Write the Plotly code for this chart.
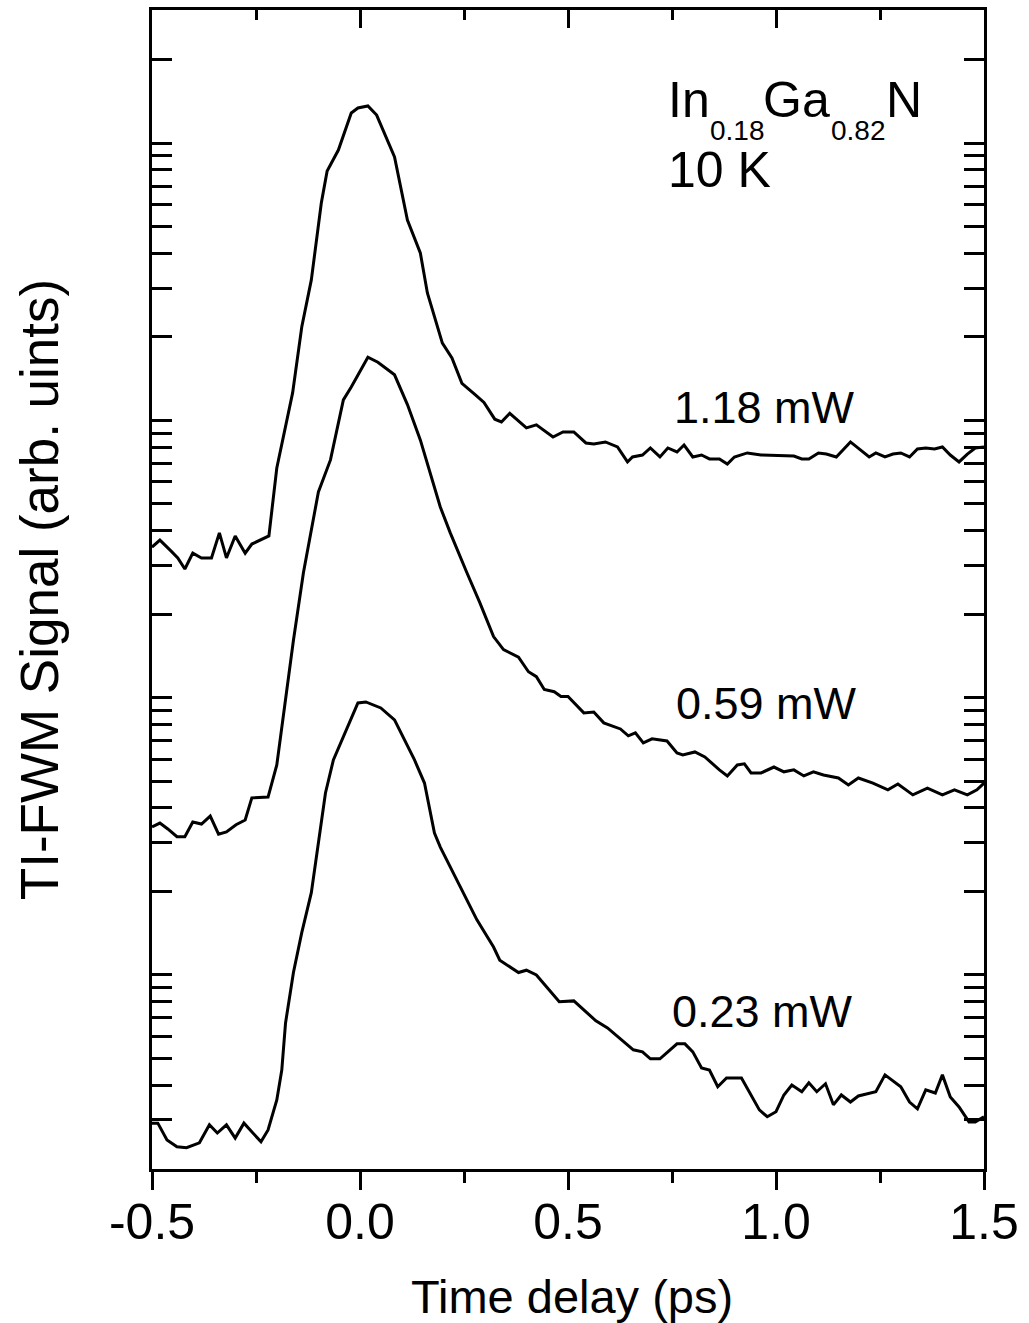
import plotly.graph_objects as go

# ---- data (time delay in ps, TI-FWM signal in arb. units) ----
t_118 = [-0.500, -0.481, -0.457, -0.438, -0.421, -0.402, -0.381, -0.357, -0.338, -0.321,
         -0.300, -0.276, -0.260, -0.219, -0.200, -0.179, -0.162, -0.140, -0.117, -0.093,
         -0.079, -0.052, -0.021, -0.005, 0.019, 0.040, 0.083, 0.114, 0.145, 0.162,
         0.198, 0.221, 0.245, 0.276, 0.298, 0.324, 0.340, 0.360, 0.400, 0.424,
         0.464, 0.488, 0.514, 0.543, 0.562, 0.590, 0.619, 0.643, 0.655, 0.679,
         0.698, 0.721, 0.740, 0.762, 0.779, 0.800, 0.821, 0.840, 0.864, 0.883,
         0.900, 0.931, 0.964, 1.043, 1.062, 1.079, 1.102, 1.121, 1.145, 1.179,
         1.202, 1.224, 1.240, 1.262, 1.281, 1.300, 1.321, 1.340, 1.360, 1.381,
         1.400, 1.419, 1.440, 1.460, 1.479, 1.500]
s_118 = [34.9, 37.0, 34.1, 31.9, 29.1, 33.2, 31.9, 31.9, 39.3, 31.9,
         38.3, 33.2, 35.8, 38.3, 67.3, 94.7, 125.6, 217, 321, 608,
         793, 944, 1284, 1339, 1361, 1262, 891, 528, 402, 288,
         190, 168, 136, 124, 116, 101, 98.7, 106, 93.9, 96.3,
         87.1, 90.8, 90.8, 82.9, 82.2, 83.6, 80.2, 70.8, 73.8, 75.0,
         79.5, 73.8, 79.5, 76.9, 81.5, 73.8, 75.0, 72.6, 72.6, 69.6,
         73.8, 76.3, 75.0, 74.4, 72.6, 72.6, 76.3, 75.6, 73.8, 83.6,
         78.2, 73.8, 76.3, 73.8, 75.6, 76.3, 73.8, 78.9, 79.5, 78.9,
         80.2, 75.0, 70.8, 75.6, 79.5, 80.2]

t_059 = [-0.500, -0.481, -0.462, -0.440, -0.421, -0.402, -0.381, -0.360, -0.340, -0.321,
         -0.298, -0.276, -0.260, -0.221, -0.200, -0.179, -0.160, -0.136, -0.117, -0.100,
         -0.071, -0.040, -0.021, 0.019, 0.043, 0.083, 0.114, 0.145, 0.193, 0.217,
         0.257, 0.288, 0.321, 0.345, 0.381, 0.405, 0.424, 0.443, 0.467, 0.483,
         0.500, 0.538, 0.562, 0.586, 0.626, 0.645, 0.662, 0.681, 0.702, 0.738,
         0.762, 0.776, 0.805, 0.829, 0.864, 0.883, 0.907, 0.924, 0.940, 0.964,
         0.995, 1.019, 1.043, 1.067, 1.090, 1.114, 1.150, 1.174, 1.198, 1.233,
         1.269, 1.293, 1.329, 1.364, 1.400, 1.429, 1.460, 1.483, 1.500]
s_059 = [3.42, 3.53, 3.36, 3.15, 3.15, 3.56, 3.50, 3.74, 3.22, 3.28,
         3.48, 3.62, 4.35, 4.38, 5.72, 10.1, 16.1, 28.2, 40.3, 55.2,
         72.0, 118.5, 132, 169, 162, 146, 114, 85.0, 48.7, 39.3,
         28.2, 22.0, 16.6, 14.9, 14.0, 12.4, 11.9, 10.7, 10.5, 10.1,
         10.1, 8.81, 8.88, 8.11, 7.71, 7.28, 7.46, 6.87, 7.10, 6.98,
         6.32, 6.21, 6.37, 6.11, 5.49, 5.22, 5.72, 5.77, 5.35, 5.35,
         5.62, 5.40, 5.49, 5.22, 5.40, 5.26, 5.13, 4.84, 5.13, 4.92,
         4.65, 4.88, 4.46, 4.72, 4.46, 4.65, 4.46, 4.65, 4.92]

t_023 = [-0.500, -0.486, -0.464, -0.440, -0.417, -0.386, -0.362, -0.343, -0.321, -0.300,
         -0.279, -0.238, -0.221, -0.200, -0.188, -0.179, -0.160, -0.140, -0.117, -0.083,
         -0.064, -0.036, -0.005, 0.014, 0.050, 0.083, 0.131, 0.155, 0.179, 0.193,
         0.240, 0.281, 0.321, 0.336, 0.381, 0.400, 0.424, 0.479, 0.514, 0.567,
         0.595, 0.657, 0.679, 0.698, 0.721, 0.762, 0.781, 0.800, 0.821, 0.840,
         0.860, 0.881, 0.917, 0.940, 0.960, 0.979, 1.000, 1.019, 1.038, 1.062,
         1.079, 1.098, 1.119, 1.138, 1.157, 1.179, 1.198, 1.240, 1.262, 1.300,
         1.321, 1.340, 1.360, 1.383, 1.400, 1.419, 1.440, 1.464, 1.479, 1.500]
s_023 = [0.292, 0.292, 0.254, 0.240, 0.238, 0.248, 0.288, 0.269, 0.288, 0.258,
         0.292, 0.250, 0.276, 0.354, 0.454, 0.671, 1.02, 1.42, 1.98, 4.53,
         5.96, 7.46, 9.57, 9.65, 9.18, 8.31, 5.96, 4.92, 3.25, 2.89,
         2.08, 1.58, 1.26, 1.13, 1.02, 1.04, 1.00, 0.800, 0.806, 0.683,
         0.644, 0.537, 0.528, 0.498, 0.498, 0.564, 0.564, 0.528, 0.462, 0.454,
         0.395, 0.425, 0.425, 0.369, 0.326, 0.308, 0.321, 0.369, 0.401, 0.379,
         0.408, 0.379, 0.405, 0.340, 0.369, 0.348, 0.366, 0.379, 0.436, 0.395,
         0.348, 0.329, 0.385, 0.375, 0.436, 0.363, 0.334, 0.295, 0.295, 0.308]

x_major = [-0.5, 0.0, 0.5, 1.0, 1.5]
x_major_text = ["-0.5", "0.0", "0.5", "1.0", "1.5"]
x_minor = [-0.25, 0.25, 0.75, 1.25]
y_major = [1, 10, 100, 1000]
y_minor = [m * d for d in (0.1, 1, 10, 100, 1000) for m in range(2, 10)]
y_minor = [v for v in y_minor if 0.19 < v < 3100]

FONT = "Liberation Sans, Arial, sans-serif"
LW = 3

fig = go.Figure()
for tt, ss in ((t_118, s_118), (t_059, s_059), (t_023, s_023)):
    fig.add_trace(go.Scatter(x=tt, y=ss, mode="lines",
                             line=dict(color="black", width=3),
                             hoverinfo="skip"))
# invisible trace to activate the top axis
fig.add_trace(go.Scatter(x=t_118, y=s_118, xaxis="x2", yaxis="y", mode="lines",
                         line=dict(color="rgba(0,0,0,0)", width=0), hoverinfo="skip"))

fig.update_layout(
    width=1029, height=1323,
    margin=dict(l=152, r=37, t=10, b=154),
    paper_bgcolor="white", plot_bgcolor="white",
    showlegend=False, hovermode=False,
    font=dict(family=FONT, color="black"),
    xaxis=dict(range=[-0.5, 1.5], showgrid=False, zeroline=False,
               showline=True, linecolor="black", linewidth=LW, mirror=False,
               ticks="outside", tickvals=x_major, ticktext=x_major_text,
               ticklen=18, tickwidth=LW, tickcolor="black",
               ticklabelstandoff=-11,
               tickfont=dict(size=50, family=FONT),
               minor=dict(tickvals=x_minor, ticks="outside", ticklen=11,
                          tickwidth=LW, tickcolor="black")),
    xaxis2=dict(range=[-0.5, 1.5], overlaying="x", side="top", anchor="y",
                showgrid=False, zeroline=False, showline=True,
                linecolor="black", linewidth=LW, showticklabels=False,
                ticks="inside", tickvals=x_major, ticklen=18, tickwidth=LW,
                tickcolor="black",
                minor=dict(tickvals=x_minor, ticks="inside", ticklen=10,
                           tickwidth=LW, tickcolor="black")),
    yaxis=dict(type="log", range=[-0.700, 3.480], showgrid=False, zeroline=False,
               showline=True, linecolor="black", linewidth=LW, mirror="allticks",
               ticks="inside", tickvals=y_major, ticklen=20, tickwidth=LW,
               tickcolor="black", showticklabels=False,
               minor=dict(tickvals=y_minor, ticks="inside", ticklen=11,
                          tickwidth=LW, tickcolor="black")),
)

# composition label: main text pieces and lowered subscripts
comp = [
    dict(text="In",   x=0.6190, y=0.922,  size=50),
    dict(text="0.18", x=0.6690, y=0.8956, size=28),
    dict(text="Ga",   x=0.7330, y=0.922,  size=50),
    dict(text="0.82", x=0.8150, y=0.8956, size=28),
    dict(text="N",    x=0.8810, y=0.922,  size=50),
]
ann = comp + [
    dict(text="10 K", x=0.6190, y=0.862, size=50),
]
for a in ann:
    fig.add_annotation(text=a["text"], x=a["x"], y=a["y"], xref="paper", yref="paper",
                       xanchor="left", yanchor="middle", showarrow=False,
                       borderpad=0,
                       font=dict(size=a["size"], family=FONT, color="black"))

power = [
    dict(text="1.18 mW", x=0.736, y=0.657),
    dict(text="0.59 mW", x=0.738, y=0.402),
    dict(text="0.23 mW", x=0.734, y=0.136),
]
for a in power:
    fig.add_annotation(text=a["text"], x=a["x"], y=a["y"], xref="paper", yref="paper",
                       xanchor="center", yanchor="middle", showarrow=False,
                       font=dict(size=45, family=FONT, color="black"))

fig.add_annotation(text="Time delay (ps)", x=0.505, y=-0.110, xref="paper", yref="paper",
                   xanchor="center", yanchor="middle", showarrow=False,
                   font=dict(size=47, family=FONT, color="black"))
fig.add_annotation(text="TI-FWM Signal (arb. uints)", x=-0.135, y=0.500,
                   xref="paper", yref="paper", textangle=-90,
                   xanchor="center", yanchor="middle", showarrow=False,
                   font=dict(size=53, family=FONT, color="black"))

fig.write_html("out.html")
